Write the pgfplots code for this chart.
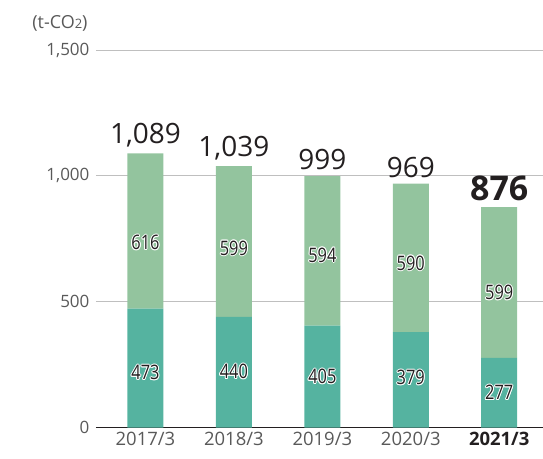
\documentclass[border=0pt]{standalone}
\usepackage{graphicx}
\usepackage{fontspec}
\setmainfont{Open Sans}
\usepackage{pgfplots}
\pgfplotsset{compat=1.18}

\definecolor{lowbar}{HTML}{55B3A0}
\definecolor{upbar}{HTML}{93C49E}
\definecolor{tickgray}{HTML}{595959}
\definecolor{inkc}{HTML}{231F20}

% white halo built from offset copies
\newcommand{\hc}[3]{\rlap{\hspace*{#1}\raisebox{#2}{\color{white}#3}}}
\newcommand{\halo}[1]{\hc{1pt}{0pt}{#1}\hc{-1pt}{0pt}{#1}\hc{0pt}{1pt}{#1}\hc{0pt}{-1pt}{#1}%
  \hc{.7pt}{.7pt}{#1}\hc{-.7pt}{.7pt}{#1}\hc{.7pt}{-.7pt}{#1}\hc{-.7pt}{-.7pt}{#1}#1}
\newcommand{\barlab}[1]{\halo{\scalebox{0.82}[1]{#1}}}

\tikzset{
  inlab/.style={font=\fontsize{20}{20}\selectfont, text=inkc},
  total/.style={anchor=south, inner sep=0pt, yshift=6pt, text=inkc, font=\fontsize{28}{28}\selectfont},
}

\begin{document}
\begin{tikzpicture}
\begin{axis}[
  at={(96pt,31pt)}, anchor=south west,
  scale only axis, width=447pt, height=378pt,
  ybar stacked, bar width=36pt,
  xmin=-0.56, xmax=4.49, ymin=0, ymax=1500,
  axis line style={draw=none},
  major tick length=0pt,
  ytick={0,500,1000,1500},
  ymajorgrids, grid style={color=black!25, line width=0.8pt},
  extra y ticks={0}, extra y tick labels={},
  extra y tick style={grid style={color=inkc, line width=0.9pt}},
  xtick={0,1,2,3,4},
  xticklabels={2017/3,2018/3,2019/3,2020/3,{\textcolor{inkc}{\bfseries 2021/3}}},
  /pgf/number format/assume math mode=true,
  /pgf/number format/1000 sep={,},
  yticklabel style={font=\fontsize{17}{17}\selectfont, text=tickgray, xshift=-3pt},
  xticklabel style={font=\fontsize{18.5}{18.5}\selectfont, text=tickgray, yshift=-1pt},
  clip=false,
]
\addplot[fill=lowbar, draw=none] coordinates {(0,473) (1,440) (2,405) (3,379) (4,277)};
\addplot[fill=upbar, draw=none] coordinates {(0,616) (1,599) (2,594) (3,590) (4,599)};

% anchor points for the labels inside the bars
\coordinate (a0) at (axis cs:0,218);
\coordinate (a1) at (axis cs:1,222);
\coordinate (a2) at (axis cs:2,202);
\coordinate (a3) at (axis cs:3,198);
\coordinate (a4) at (axis cs:4,139);
\coordinate (b0) at (axis cs:0,734);
\coordinate (b1) at (axis cs:1,714);
\coordinate (b2) at (axis cs:2,686);
\coordinate (b3) at (axis cs:3,654);
\coordinate (b4) at (axis cs:4,536);
% totals
\coordinate (t0) at (axis cs:0,1089);
\coordinate (t1) at (axis cs:1,1039);
\coordinate (t2) at (axis cs:2,999);
\coordinate (t3) at (axis cs:3,969);
\coordinate (t4) at (axis cs:4,876);
\end{axis}

\node[inlab] at (a0) {\barlab{473}};
\node[inlab] at (a1) {\barlab{440}};
\node[inlab] at (a2) {\barlab{405}};
\node[inlab] at (a3) {\barlab{379}};
\node[inlab] at (a4) {\barlab{277}};
\node[inlab] at (b0) {\barlab{616}};
\node[inlab] at (b1) {\barlab{599}};
\node[inlab] at (b2) {\barlab{594}};
\node[inlab] at (b3) {\barlab{590}};
\node[inlab] at (b4) {\barlab{599}};

\node[total] at (t0) {1,089};
\node[total] at (t1) {1,039};
\node[total] at (t2) {999};
\node[total] at (t3) {969};
\node[total, font=\fontsize{34}{34}\selectfont\bfseries] at (t4) {876};

\node[text=tickgray, font=\fontsize{18}{18}\selectfont] at (60pt,436pt) {(t-CO{\fontsize{13}{13}\selectfont 2})};
\path (0,0) rectangle (543pt,459pt);
\end{tikzpicture}
\end{document}
